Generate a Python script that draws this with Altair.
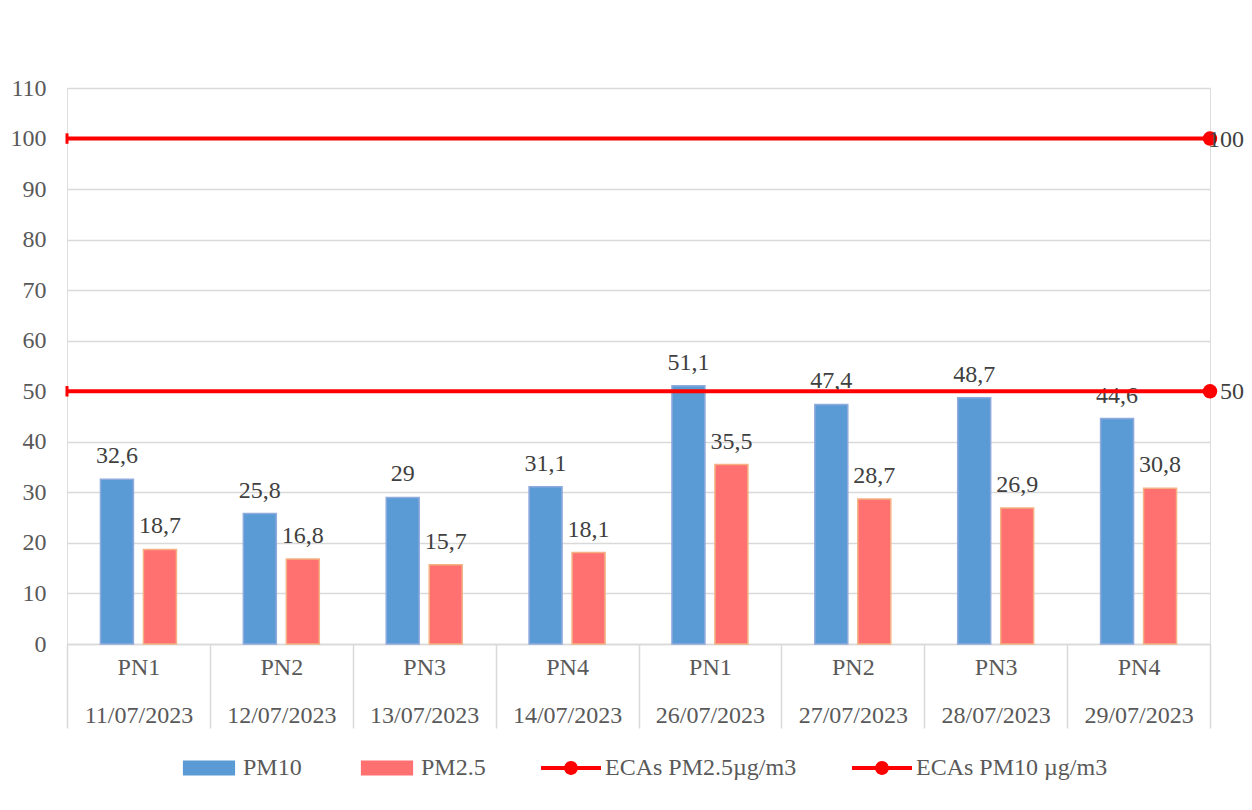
import altair as alt
import pandas as pd

points = ["PN1", "PN2", "PN3", "PN4", "PN1", "PN2", "PN3", "PN4"]
dates = ["11/07/2023", "12/07/2023", "13/07/2023", "14/07/2023",
         "26/07/2023", "27/07/2023", "28/07/2023", "29/07/2023"]
pm10 = [32.6, 25.8, 29, 31.1, 51.1, 47.4, 48.7, 44.6]
pm25 = [18.7, 16.8, 15.7, 18.1, 35.5, 28.7, 26.9, 30.8]
eca_names = ["ECAs PM2.5µg/m3", "ECAs PM10 µg/m3"]
eca_values = [50, 100]
series_names = ["PM10", "PM2.5"]
y_ticks = list(range(0, 111, 10))

FONT = "Liberation Serif"
FS = 24
keys = [f"{p}|{d}" for p, d in zip(points, dates)]

rows = []
for k, a, b in zip(keys, pm10, pm25):
    rows.append({"key": k, "series": "PM10", "value": a})
    rows.append({"key": k, "series": "PM2.5", "value": b})
bars_df = pd.DataFrame(rows)
bars_df["label"] = bars_df["value"].map(lambda v: (f"{v:g}").replace(".", ","))

eca_df = pd.DataFrame({"series": eca_names, "value": eca_values,
                       "first": keys[0], "last": keys[-1]})
eca_df["label"] = eca_df["value"].map(lambda v: f"{v:g}")

all_series = series_names + eca_names
legend_df = pd.DataFrame({"series": all_series, "key": keys[0], "value": 0})

color_scale = alt.Scale(domain=all_series,
                        range=["#5B9BD5", "#FF7171", "#FF0000", "#FF0000"])
stroke_scale = alt.Scale(domain=series_names, range=["#8FAADC", "#F4B183"])
rect_path = "M-0.87,-0.25 L0.87,-0.25 L0.87,0.25 L-0.87,0.25 Z"
line_path = ("M-1,-0.07 L1,-0.07 L1,0.07 L-1,0.07 Z "
             "M0.23,0 A0.23,0.23 0 1,1 -0.23,0 A0.23,0.23 0 1,1 0.23,0 Z")
shape_scale = alt.Scale(domain=all_series,
                        range=[rect_path, rect_path, line_path, line_path])

x_scale = alt.Scale(domain=keys, paddingInner=0, paddingOuter=0)
x_axis = alt.Axis(title=None, labelExpr="split(datum.label, '|')",
                  labelAngle=0, labelFont=FONT, labelFontSize=FS,
                  labelColor="#595959", labelLineHeight=48,
                  labelPadding=-73, labelBaseline="top",
                  tickBand="extent", tickSize=84, tickColor="#d9d9d9",
                  tickWidth=1.5, domainColor="#d9d9d9", domainWidth=1.5,
                  grid=False)
x_enc = alt.X("key:N", scale=x_scale, axis=x_axis)
y_scale = alt.Scale(domain=[0, 110], nice=False)
y_axis = alt.Axis(title=None, values=y_ticks, labelFont=FONT, labelFontSize=FS,
                  labelColor="#595959", labelPadding=21, domain=False,
                  ticks=False, gridColor="#d9d9d9", gridWidth=1.5)

legend = alt.Legend(
    title=None, orient="none", direction="horizontal",
    legendX=112, legendY=650,
    labelFont=FONT, labelFontSize=FS, labelColor="#595959", labelLimit=0,
    symbolSize=3600, labelOffset=4, columnPadding=55,
    symbolStrokeWidth=0, symbolOpacity=1,
)

xoff = alt.XOffset("series:N", sort=series_names,
                   scale=alt.Scale(paddingInner=0.233, paddingOuter=0.778))

base = alt.Chart(bars_df)
bars = base.mark_bar(strokeWidth=1.5).encode(
    x=x_enc,
    xOffset=xoff,
    y=alt.Y("value:Q", scale=y_scale, axis=y_axis),
    color=alt.Color("series:N", scale=color_scale, legend=legend),
    stroke=alt.Stroke("series:N", scale=stroke_scale, legend=None),
)
bar_labels = base.mark_text(font=FONT, fontSize=FS, color="#404040",
                            baseline="alphabetic", dy=-16).encode(
    x=x_enc,
    xOffset=xoff,
    y=alt.Y("value:Q", scale=y_scale),
    text="label:N",
)

legend_layer = alt.Chart(legend_df).mark_point(filled=True, opacity=0).encode(
    x=alt.X("key:N", scale=x_scale),
    y=alt.Y("value:Q", scale=y_scale),
    color=alt.Color("series:N", scale=color_scale, legend=legend),
    shape=alt.Shape("series:N", scale=shape_scale, legend=legend),
)

eca = alt.Chart(eca_df)
eca_rules = eca.mark_rule(strokeWidth=4, color="#FF0000").encode(
    y=alt.Y("value:Q", scale=y_scale),
)
eca_end = eca.mark_point(filled=True, size=210, opacity=1, shape="circle",
                         color="#FF0000").encode(
    x=alt.X("last:N", scale=x_scale, bandPosition=1),
    y=alt.Y("value:Q", scale=y_scale),
)
eca_start = eca.mark_point(filled=False, size=110, opacity=1, strokeWidth=3,
                           shape="M0,-1 L0,1", color="#FF0000").encode(
    x=alt.X("first:N", scale=x_scale, bandPosition=0),
    y=alt.Y("value:Q", scale=y_scale),
)
eca_text = eca.mark_text(font=FONT, fontSize=FS, color="#404040",
                         align="right", baseline="middle", dx=34, dy=1).encode(
    x=alt.X("last:N", scale=x_scale, bandPosition=1),
    y=alt.Y("value:Q", scale=y_scale),
    text="label:N",
)

chart = alt.layer(bars, bar_labels, legend_layer, eca_rules, eca_end,
                  eca_start, eca_text).properties(
    width=1143, height=556,
    autosize=alt.AutoSizeParams(type="none"),
    padding={"left": 59, "top": 80, "right": 34, "bottom": 150},
).configure_view(stroke=None).configure(background="white")

chart.save("out.html", embed_options={"renderer": "svg", "actions": False})
